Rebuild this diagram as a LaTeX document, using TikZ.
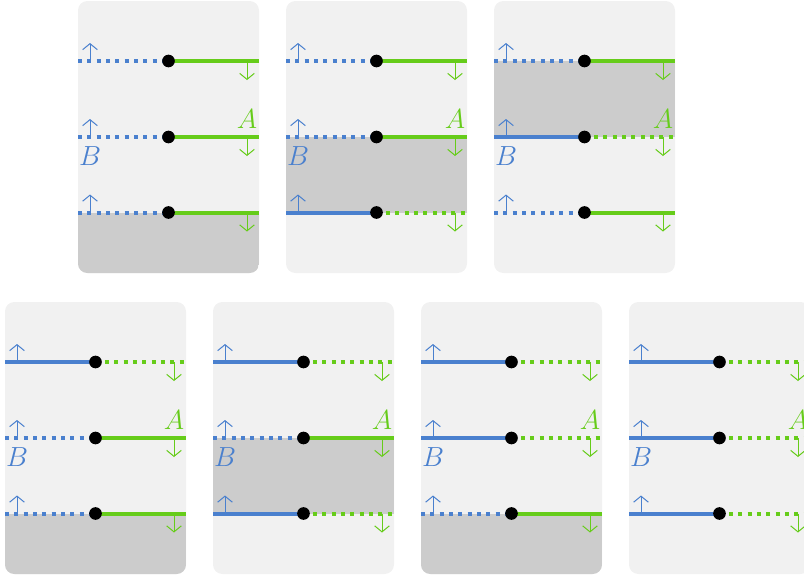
\documentclass[tikz,border=0pt]{standalone}
\usetikzlibrary{arrows.meta}
\definecolor{bblue}{RGB}{74,128,206}
\definecolor{ggreen}{RGB}{102,204,26}
\definecolor{panelbg}{RGB}{241,241,241}
\definecolor{shadecol}{RGB}{204,204,204}
\tikzset{
  solidline/.style={line width=3pt},
  dotline/.style={line width=3pt, dash pattern=on 3pt off 4pt},
  arr/.style={line width=0.75pt, -{Straight Barb[length=4.5pt,width=11pt]}},
  dotnode/.style={circle, fill=black, inner sep=0pt, minimum size=9.5pt},
  lbl/.style={font=\fontsize{20}{22}\selectfont, inner sep=0pt},
  panel/.style={fill=panelbg, rounded corners=7pt},
}
\begin{document}
\begin{tikzpicture}[x=0.75pt,y=-0.75pt]
\useasboundingbox (0,0) rectangle (804,576);
\clip (0,0) rectangle (804,576);
\foreach \px/\py/\sh/\sa/\sb/\sc [count=\n] in {78/1/1/0/0/0, 286/1/2/0/0/1, 494/1/3/0/1/0, 5/302/1/1/0/0, 213/302/2/1/0/1, 421/302/1/1/1/0, 629/302/0/1/1/1}{
  \begin{scope}[shift={(\px,\py)}]
    \fill[panel] (0,0) rectangle (181,272);
    \begin{scope}
      \clip[rounded corners=7pt] (0,0) rectangle (181,272);
      \ifcase\sh
      \or \fill[shadecol] (0,211.5) rectangle (181,273);
      \or \fill[shadecol] (0,136) rectangle (181,211.5);
      \or \fill[shadecol] (0,60) rectangle (181,136);
      \fi
    \end{scope}
    \foreach \yy/\st [count=\k] in {60/\sa,136/\sb,211.5/\sc}{
      \coordinate (L\n-\k) at (0,\yy);
      \coordinate (R\n-\k) at (181,\yy);
      \coordinate (C\n-\k) at (90.5,\yy);
      \coordinate (Ua\n-\k) at (12,\yy);
      \coordinate (Ub\n-\k) at (12,\yy-18);
      \coordinate (Da\n-\k) at (169,\yy);
      \coordinate (Db\n-\k) at (169,\yy+19);
      \ifnum\st=0
        \draw[bblue, dotline] (L\n-\k) -- (C\n-\k);
        \draw[ggreen, solidline] (C\n-\k) -- (R\n-\k);
      \else
        \draw[bblue, solidline] (L\n-\k) -- (C\n-\k);
        \draw[ggreen, dotline] (C\n-\k) -- (R\n-\k);
      \fi
      \draw[arr, bblue] (Ua\n-\k) -- (Ub\n-\k);
      \draw[arr, ggreen] (Da\n-\k) -- (Db\n-\k);
      \node[dotnode] (D\n-\k) at (C\n-\k) {};
    }
    \node[lbl, text=ggreen, anchor=base] (A\n) at (169,127) {$A$};
    \node[lbl, text=bblue, anchor=base] (B\n) at (12,164) {$B$};
  \end{scope}
}
\end{tikzpicture}
\end{document}
